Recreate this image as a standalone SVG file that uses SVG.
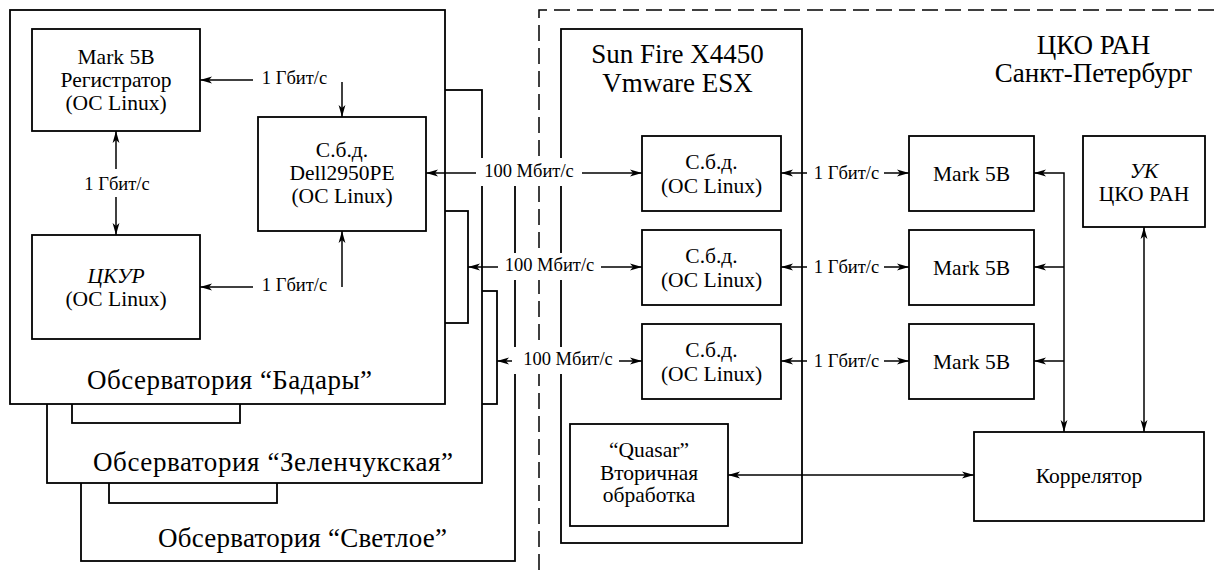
<svg xmlns="http://www.w3.org/2000/svg" width="1215" height="570" viewBox="0 0 1215 570" font-family="'Liberation Serif', 'DejaVu Serif', serif">
<defs>
<style>
.box{fill:#fff;stroke:#000;stroke-width:1.8}
.ln{fill:none;stroke:#000;stroke-width:1.5}
.dash{fill:none;stroke:#000;stroke-width:1.5;stroke-dasharray:16 7}
.bg{fill:#fff;stroke:none}
text{font-family:'Liberation Serif','DejaVu Serif',serif;fill:#000;text-anchor:middle}
.t{font-size:21.5px}
.s{font-size:18.5px}
.h{font-size:27px}
.i{font-style:italic}
</style>
<marker id="ah" viewBox="0 0 12 8" refX="12" refY="4" markerWidth="12" markerHeight="8" orient="auto-start-reverse" markerUnits="userSpaceOnUse">
<path d="M0,0.6 L12,4 L0,7.4 L3,4 z" fill="#000"/>
</marker>
</defs>
<rect width="1215" height="570" fill="#fff"/>

<g id="obs-svetloe">
<rect class="box" x="81" y="170" width="434" height="391"/>
<rect class="box" x="329" y="291" width="168" height="113"/>
<rect class="box" x="109" y="399" width="168" height="104"/>
<text class="h" x="302.5" y="547" textLength="289">Обсерватория “Светлое”</text>
</g>

<g id="obs-zelenchuk">
<rect class="box" x="47" y="90" width="435" height="393"/>
<rect class="box" x="300" y="211" width="168" height="112"/>
<rect class="box" x="72" y="319" width="168" height="104"/>
<text class="h" x="273" y="471" textLength="360">Обсерватория “Зеленчукская”</text>
</g>

<g id="obs-badary">
<rect class="box" x="10" y="10" width="435" height="394"/>
<text class="h" x="229.5" y="389" textLength="285">Обсерватория “Бадары”</text>
</g>
<g id="badary-mark5b">
<rect class="box" x="32" y="29" width="168" height="102"/>
<text class="t" x="116" y="64">Mark 5B</text>
<text class="t" x="116" y="87">Регистратор</text>
<text class="t" x="116" y="110">(ОС Linux)</text>
</g>
<g id="badary-dell">
<rect class="box" x="258" y="117" width="168" height="114"/>
<text class="t" x="342" y="157">С.б.д.</text>
<text class="t" x="342" y="180">Dell2950PE</text>
<text class="t" x="342" y="203">(ОС Linux)</text>
</g>
<g id="badary-ckur">
<rect class="box" x="32" y="235" width="168" height="104"/>
<text class="t i" x="116" y="283">ЦКУР</text>
<text class="t" x="116" y="306">(ОС Linux)</text>
</g>

<g id="boundary">
<path class="dash" d="M539,570 V10 H1215"/>
</g>

<g id="sunfire">
<rect class="box" x="561" y="29" width="241" height="514"/>
<text class="h" x="677.5" y="63">Sun Fire X4450</text>
<text class="h" x="677.5" y="92">Vmware ESX</text>
</g>
<g id="sbd1">
<rect class="box" x="642" y="136" width="139" height="75"/>
<text class="t" x="711.5" y="169">С.б.д.</text>
<text class="t" x="711.5" y="193">(ОС Linux)</text>
</g>
<g id="sbd2">
<rect class="box" x="642" y="230" width="139" height="75"/>
<text class="t" x="711.5" y="263">С.б.д.</text>
<text class="t" x="711.5" y="287">(ОС Linux)</text>
</g>
<g id="sbd3">
<rect class="box" x="642" y="324" width="139" height="75"/>
<text class="t" x="711.5" y="357">С.б.д.</text>
<text class="t" x="711.5" y="381">(ОС Linux)</text>
</g>
<g id="quasar">
<rect class="box" x="570" y="424" width="158" height="102"/>
<text class="t" x="649" y="457">“Quasar”</text>
<text class="t" x="649" y="480">Вторичная</text>
<text class="t" x="649" y="502">обработка</text>
</g>

<g id="cko-title">
<text class="h" x="1093.5" y="54">ЦКО РАН</text>
<text class="h" x="1093.5" y="82">Санкт-Петербург</text>
</g>
<g id="mark5b-1">
<rect class="box" x="909" y="136" width="125" height="75"/>
<text class="t" x="971.5" y="181">Mark 5B</text>
</g>
<g id="mark5b-2">
<rect class="box" x="909" y="230" width="125" height="75"/>
<text class="t" x="971.5" y="275">Mark 5B</text>
</g>
<g id="mark5b-3">
<rect class="box" x="909" y="324" width="125" height="75"/>
<text class="t" x="971.5" y="369">Mark 5B</text>
</g>
<g id="uk">
<rect class="box" x="1083" y="136" width="122" height="91"/>
<text class="t i" x="1144" y="178">УК</text>
<text class="t" x="1144" y="201">ЦКО РАН</text>
</g>
<g id="correlator">
<rect class="box" x="974" y="432" width="230" height="89"/>
<text class="t" x="1089" y="483">Коррелятор</text>
</g>

<g id="connectors">
<line class="ln" x1="253" y1="80" x2="200" y2="80" marker-end="url(#ah)"/>
<line class="ln" x1="342" y1="82" x2="342" y2="117" marker-end="url(#ah)"/>
<line class="ln" x1="253" y1="287" x2="200" y2="287" marker-end="url(#ah)"/>
<line class="ln" x1="342" y1="287" x2="342" y2="231" marker-end="url(#ah)"/>
<line class="ln" x1="116" y1="131" x2="116" y2="235" marker-start="url(#ah)" marker-end="url(#ah)"/>
<rect class="bg" x="80" y="169" width="74" height="28"/>
<text class="s" x="117" y="190">1 Гбит/с</text>
<text class="s" x="294.5" y="84">1 Гбит/с</text>
<text class="s" x="294.5" y="291">1 Гбит/с</text>

<line class="ln" x1="426" y1="173" x2="642" y2="173" marker-start="url(#ah)" marker-end="url(#ah)"/>
<line class="ln" x1="468" y1="267" x2="642" y2="267" marker-start="url(#ah)" marker-end="url(#ah)"/>
<line class="ln" x1="497" y1="361" x2="642" y2="361" marker-start="url(#ah)" marker-end="url(#ah)"/>
<rect class="bg" x="476" y="158" width="106" height="28"/>
<text class="s" x="529" y="177">100 Мбит/с</text>
<rect class="bg" x="498" y="253" width="103" height="27"/>
<text class="s" x="549.5" y="271">100 Мбит/с</text>
<rect class="bg" x="512" y="347" width="107" height="27"/>
<text class="s" x="568" y="365">100 Мбит/с</text>

<line class="ln" x1="781" y1="173" x2="909" y2="173" marker-start="url(#ah)" marker-end="url(#ah)"/>
<line class="ln" x1="781" y1="267" x2="909" y2="267" marker-start="url(#ah)" marker-end="url(#ah)"/>
<line class="ln" x1="781" y1="361" x2="909" y2="361" marker-start="url(#ah)" marker-end="url(#ah)"/>
<rect class="bg" x="807" y="160" width="77" height="26"/>
<text class="s" x="846.5" y="179">1 Гбит/с</text>
<rect class="bg" x="807" y="254" width="77" height="26"/>
<text class="s" x="846.5" y="273">1 Гбит/с</text>
<rect class="bg" x="807" y="348" width="77" height="26"/>
<text class="s" x="846.5" y="367">1 Гбит/с</text>

<path class="ln" d="M1034,173 H1064 V432" marker-start="url(#ah)" marker-end="url(#ah)"/>
<line class="ln" x1="1064" y1="267" x2="1034" y2="267" marker-end="url(#ah)"/>
<line class="ln" x1="1064" y1="361" x2="1034" y2="361" marker-end="url(#ah)"/>
<line class="ln" x1="1144" y1="227" x2="1144" y2="432" marker-start="url(#ah)" marker-end="url(#ah)"/>
<line class="ln" x1="728" y1="475" x2="974" y2="475" marker-start="url(#ah)" marker-end="url(#ah)"/>
</g>
</svg>
